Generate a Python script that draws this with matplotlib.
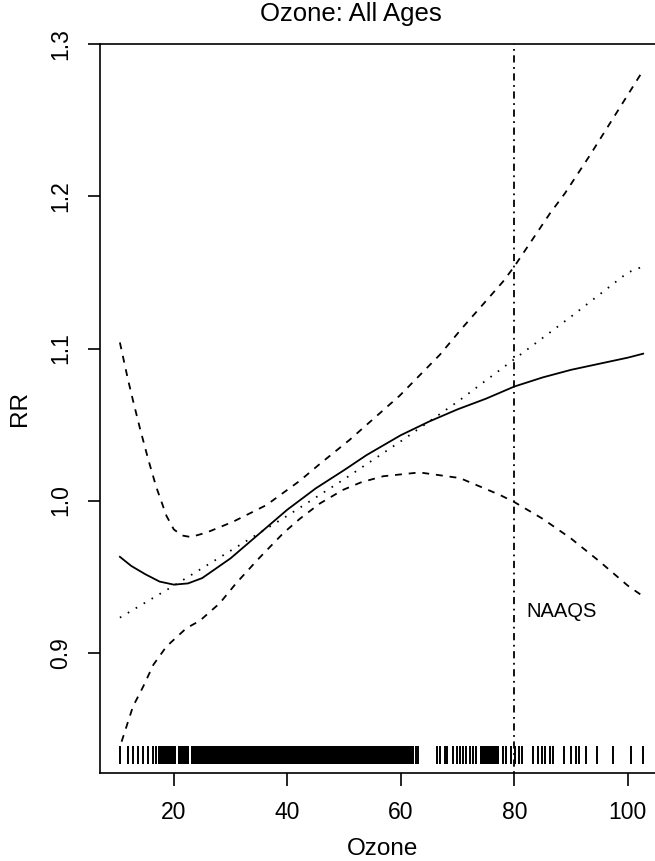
import numpy as np
import matplotlib.pyplot as plt

plt.rcParams['font.family'] = ['Liberation Sans', 'DejaVu Sans']

# values
est_x = [10.5, 12.5, 15, 17.5, 20, 22.5, 25, 27.5, 30, 32.5, 35, 37.5, 40,
         45, 50, 54, 60, 65, 70, 75, 80, 85, 90, 95, 100, 102.7]
est_rr = [0.963, 0.957, 0.9515, 0.9467, 0.9447, 0.9455, 0.949, 0.9555,
          0.962, 0.970, 0.978, 0.986, 0.994, 1.008, 1.020, 1.030, 1.043,
          1.052, 1.060, 1.067, 1.075, 1.081, 1.086, 1.090, 1.094, 1.0966]

upper_x = [10.5, 11.9, 12.8, 14.0, 15.5, 16.9, 18.7, 20.0, 21.5, 23.0, 25.8,
           30.4, 36.3, 42.2, 45.7, 51.0, 59.8, 66.9, 70.7, 78.0, 80, 86.3,
           88.9, 93.3, 102.7]
upper_rr = [1.104, 1.080, 1.066, 1.048, 1.027, 1.009, 0.990, 0.981, 0.977,
            0.976, 0.979, 0.986, 0.997, 1.013, 1.024, 1.040, 1.069, 1.096,
            1.113, 1.144, 1.154, 1.189, 1.202, 1.227, 1.283]

lower_x = [10.8, 12.8, 14.6, 16.4, 18.7, 22.2, 24.6, 28.1, 31.0, 35.0, 39.3,
           42.2, 45.7, 49.8, 53.0, 56.9, 63.3, 70.4, 77.4, 80, 85, 90, 95,
           100, 102.7]
lower_rr = [0.8414, 0.8645, 0.8776, 0.892, 0.904, 0.916, 0.921, 0.9325,
            0.9457, 0.962, 0.9786, 0.988, 0.998, 1.007, 1.012, 1.016,
            1.0185, 1.0148, 1.0038, 0.999, 0.988, 0.975, 0.960, 0.944, 0.937]

lin_x = [10.5, 20, 30, 40, 50, 60, 70, 80, 90, 100, 102.7]
lin_rr = [0.923, 0.944, 0.967, 0.990, 1.014, 1.039, 1.065, 1.093, 1.121,
          1.150, 1.154]

# rug of observed ozone values (single readings + solid dense stretches)
rug_x = [10.5, 11.9, 12.8, 13.7, 14.6, 15.5, 16.4, 16.9, 62.7, 63.1, 66.4,
         66.9, 67.8, 68.2, 69.2, 69.9, 70.4, 70.9, 71.5, 72.2, 72.7, 73.3,
         78.0, 78.6, 79.5, 80.1, 80.8, 81.3, 83.3, 84.2, 84.8, 85.4, 86.3,
         86.8, 88.7, 89.9, 90.8, 91.4, 92.7, 94.6, 97.4, 100.5, 102.7]
rug_dense = [(17.3, 20.4), (20.8, 22.7), (23.1, 62.4), (73.9, 77.3)]

naaqs = 80

fig = plt.figure(figsize=(6.55, 8.61), dpi=100)
ax = fig.add_axes([0.1527, 0.1022, 0.8613, 0.8467])

ax.plot(est_x, est_rr, color='black', lw=1.3)
ax.plot(upper_x, upper_rr, color='black', lw=1.3, linestyle=(0, (3.8, 3.8)))
ax.plot(lower_x, lower_rr, color='black', lw=1.3, linestyle=(0, (3.8, 3.8)))
ax.plot(lin_x, lin_rr, color='black', lw=1.3, linestyle=(0, (0.9, 4.2)))
ax.axvline(naaqs, color='black', lw=1.3, linestyle=(0, (1, 2.5, 4, 2.5)))
ax.text(naaqs + 2.2, 0.927, 'NAAQS', fontsize=14.5, va='center', ha='left')

# rug
ax.vlines(rug_x, 0.827, 0.8385, color='black', lw=1.4)
for a, b in rug_dense:
    ax.fill_between([a, b], 0.827, 0.8385, color='black', lw=0)

ax.set_xlim(7.0, 106.4)
ax.set_ylim(0.8208, 1.3003)
ax.set_xticks([20, 40, 60, 80, 100])
ax.set_yticks([0.9, 1.0, 1.1, 1.2, 1.3])
ax.set_yticklabels(['0.9', '1.0', '1.1', '1.2', '1.3'])
ax.tick_params(length=9, width=1.2, labelsize=16.5, pad=11)
plt.setp(ax.get_yticklabels(), rotation=90, va='center')
ax.spines['right'].set_visible(False)
for s in ['left', 'top', 'bottom']:
    ax.spines[s].set_linewidth(1.2)

ax.set_xlabel('Ozone', fontsize=17.5, labelpad=10)
ax.set_ylabel('RR', fontsize=17.5, labelpad=13)
fig.text(351 / 655, 1 - 14 / 861, 'Ozone: All Ages', fontsize=18.5,
         ha='center', va='center')

fig.savefig('out.png', dpi=100)
